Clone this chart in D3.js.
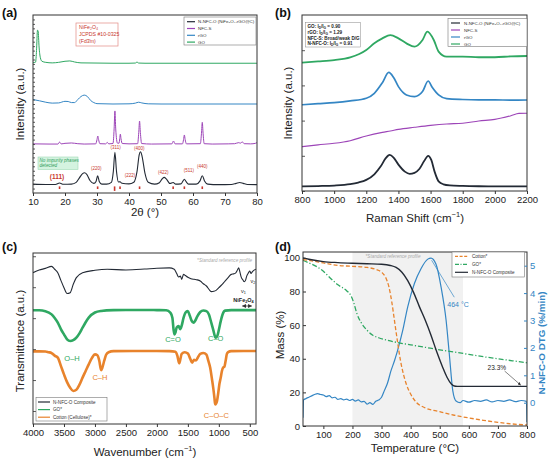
<!DOCTYPE html>
<html>
<head>
<meta charset="utf-8">
<script src="https://cdnjs.cloudflare.com/ajax/libs/d3/7.8.5/d3.min.js"></script>
<style>
body { margin: 0; background: #fff; }
svg { display: block; }
text { font-family: "Liberation Sans", Arial, sans-serif; }
</style>
</head>
<body>
<svg></svg>
<script>
// ---------- (a) XRD ----------
let xrdTicks = [10, 20, 30, 40, 50, 60, 70, 80]
let xrdGO = [[10,73.2],[10.8,73.5],[11.1,80],[11.4,91.5],[11.6,91],[11.9,82],[12.3,76],[12.8,74],[14,73.4],[16,73.1],[18,73.4],[20,74],[21.5,74.2],[23,73.6],[25,73.1],[30,73],[35,72.9],[40,72.9],[42,73],[42.5,73.6],[43,73],[45,72.9],[50,72.9],[60,72.9],[70,72.9],[80,72.9]]
let xrdRGO = [[10,52.5],[12,51.8],[14,51],[16,50.5],[18,50.6],[20,51.5],[21,51.4],[22,50.8],[23,50.8],[24,52.5],[25,54.2],[26,55],[27,54.2],[28,52],[29,50.8],[30,50.2],[35,50],[40,50.1],[42,50.5],[43,51],[44,50.6],[46,50.1],[50,50],[60,50],[70,50],[80,50]]
let xrdNFCS = [[10,27.6],[15,27.5],[17.8,27.5],[18.3,28.6],[18.8,27.6],[20,27.9],[22,28.1],[24,27.7],[26,27.5],[29.6,27.6],[30.0,30],[30.25,32.0],[30.5,30],[30.9,27.7],[32.7,27.6],[33.2,28.4],[33.7,27.6],[35.0,27.8],[35.35,36],[35.6,46.1],[35.85,36],[36.4,28],[36.9,28],[37.1,30.5],[37.3,33.1],[37.5,30.5],[37.9,27.8],[40,27.6],[42.7,27.7],[43.05,34],[43.3,40.4],[43.55,34],[43.95,27.8],[47,27.5],[53.4,27.6],[53.9,29.2],[54.4,27.6],[56.7,27.6],[57.05,30],[57.3,32.6],[57.55,30],[57.95,27.6],[62.3,27.7],[62.65,33.5],[62.9,39.7],[63.15,33.5],[63.5,27.7],[66,27.5],[71,27.6],[73,27.7],[74.3,28.3],[74.8,28.0],[75.4,28.7],[76,27.7],[78,27.6],[79.5,27.9],[80,28.3]]
let xrdNNFCO = [[10,5.0],[14,4.8],[17,4.8],[18.3,5.6],[19.5,4.9],[22,5.0],[23.5,6],[24.5,8.5],[25.5,10.9],[26.1,11.4],[26.8,10.5],[27.8,7],[29,5.4],[29.7,6.5],[30.2,9.7],[30.7,6.5],[31.5,5.0],[33,5.0],[34.5,6],[35.1,12],[35.6,22.8],[36.1,12],[36.7,6.2],[37.2,6.3],[37.8,5.5],[40,5.1],[41.5,6],[42.5,12],[43.2,21.5],[43.6,23.2],[44.1,20.5],[45,11],[46,6],[48,5.0],[49.5,5.8],[50.4,8],[51,8.8],[51.7,7.8],[52.8,5.3],[53.8,5.9],[54.6,5.0],[56.2,5.1],[56.8,6.5],[57.3,7.7],[57.8,6.5],[58.6,5.0],[61,5.0],[62.2,6.8],[62.9,9.7],[63.6,6.8],[64.6,5.0],[68,4.7],[72,4.8],[73.5,5.4],[74.6,5.9],[75.7,5.4],[77,4.8],[80,4.7]]
let refPeaks = [18.3, 30.2, 35.5, 37.2, 43.3, 53.8, 57.3, 62.9]
let hklLabels = [
  {t: '(111)', x: 17.5, y: 8.0, big: true},
  {t: '(220)', x: 29.8, y: 13.2},
  {t: '(311)', x: 35.8, y: 24.5},
  {t: '(400)', x: 43.2, y: 24.0},
  {t: '(222)', x: 40.3, y: 9.2},
  {t: '(422)', x: 50.7, y: 10.6},
  {t: '(511)', x: 58.7, y: 11.6},
  {t: '(440)', x: 62.9, y: 13.8}
]
let xrdLegend = ['N-NFC-O (NiFe\u2082O\u2084-rGO@C)', 'NFC-S', 'rGO', 'GO']

// ---------- (b) Raman ----------
let ramanTicks = [800, 1000, 1200, 1400, 1600, 1800, 2000, 2200]
let ramanYTicks = [0, 20, 40, 60, 80]
let ramanNNFCO = [[800,2.6],[900,2.8],[1000,3.1],[1100,3.9],[1150,4.8],[1200,6.3],[1250,9.5],[1290,14],[1320,18.5],[1345,20.5],[1370,19],[1400,15],[1440,11],[1470,9.7],[1500,10.3],[1530,12.5],[1560,17],[1585,20],[1605,17.5],[1625,11],[1650,5.5],[1680,3.8],[1720,3.2],[1800,2.9],[1900,2.7],[2000,2.6],[2100,2.6],[2200,2.6]]
let ramanNFCS = [[800,25.2],[900,26.2],[1000,27.1],[1100,28.6],[1200,31.3],[1300,33.3],[1350,34.1],[1400,35.0],[1500,36.2],[1600,37.3],[1700,38.1],[1800,38.5],[1900,39.8],[2000,40.7],[2100,42.8],[2150,44.1],[2200,44.2]]
let ramanRGO = [[800,49],[900,49.6],[1000,50.2],[1100,51.2],[1200,52.7],[1250,55.5],[1300,61.5],[1340,67.4],[1370,64.5],[1400,59.3],[1450,54.6],[1500,53.6],[1550,56.5],[1585,62.5],[1610,59],[1650,54.6],[1700,52.5],[1800,52],[1900,51.8],[2000,51.8],[2100,51.6],[2200,51.7]]
let ramanGO = [[800,72.9],[900,73.6],[1000,74.4],[1100,75.9],[1200,80.1],[1250,83.9],[1300,86.7],[1350,88.6],[1400,86.7],[1450,83.9],[1500,82.0],[1550,85.8],[1580,90.5],[1620,85.8],[1650,79.2],[1700,76.3],[1800,76.3],[1900,76.0],[2000,76.0],[2100,76.5],[2200,76.7]]
let ratioLines = [
  ['GO: ', '0.90'],
  ['rGO: ', '1.29'],
  ['NFC-S: Broad/weak D/G', null],
  ['N-NFC-O: ', '0.91']
]

// ---------- (c) FTIR ----------
let ftirTicks = [4000, 3500, 3000, 2500, 2000, 1500, 1000, 500]
let ftirYTicks = [7.6, 25.7, 43.8, 61.9, 80, 98.1]
let ftirComposite = [[4000,88.5],[3900,90],[3800,91],[3700,92.2],[3650,90.5],[3600,88.5],[3550,84],[3500,79.7],[3450,76.3],[3400,76.8],[3350,81.7],[3300,85.6],[3200,88.5],[3000,89.9],[2800,90.5],[2500,90.1],[2200,90.6],[2000,91.1],[1800,91.3],[1720,90.5],[1680,88],[1650,86],[1620,86.5],[1600,84.6],[1570,87.5],[1540,86.8],[1500,85.8],[1450,85],[1400,84.6],[1350,84.3],[1300,83.6],[1250,82],[1200,80.7],[1150,78.3],[1120,77.4],[1080,77.6],[1050,78],[1000,79.7],[950,81.5],[900,83.6],[850,85.6],[800,87.5],[760,87.8],[730,88.2],[700,90],[680,91.4],[660,89],[640,86],[610,84.2],[590,83.2],[570,84],[550,86.5],[520,88.5],[500,89.5],[480,88],[460,89],[430,90],[400,90.5]]
let ftirGO = [[4000,66.5],[3900,66.5],[3800,66],[3700,64.1],[3650,62],[3600,59.3],[3550,55.5],[3500,52.4],[3450,49.5],[3400,48.5],[3350,49],[3300,50.5],[3250,53],[3200,56.3],[3150,59.5],[3100,62.2],[3000,65.2],[2900,66.1],[2700,66.6],[2500,66.7],[2200,66.7],[2000,66.6],[1850,66.5],[1780,65],[1750,62.2],[1730,55],[1715,52.4],[1700,53.5],[1680,56.5],[1650,57.3],[1625,55.5],[1600,57.5],[1570,62],[1540,65],[1500,66],[1470,63.5],[1440,60.5],[1410,59.3],[1380,60.5],[1350,62.8],[1300,65.5],[1250,66.4],[1200,66],[1160,64],[1120,59],[1090,55],[1060,51],[1045,50.5],[1020,52],[1000,55],[970,60],[940,64],[900,66.3],[800,66.6],[600,66.6],[400,66.6]]
let ftirCotton = [[4000,42.5],[3900,42.5],[3800,42.4],[3750,42],[3700,41.5],[3650,40],[3600,38.8],[3550,34],[3500,29],[3450,24.5],[3400,21.2],[3350,19.3],[3300,20],[3250,23],[3200,27.1],[3150,31],[3100,34.9],[3050,38.5],[3000,40.7],[2960,40.2],[2930,37],[2900,31.5],[2880,33],[2850,37],[2820,40.5],[2780,42],[2700,42.6],[2400,42.7],[2000,42.7],[1800,42.6],[1700,42.3],[1670,40],[1640,35.5],[1620,38],[1600,41],[1550,42],[1500,41.2],[1460,38],[1430,35.9],[1400,37.5],[1370,37.2],[1330,39.5],[1300,41],[1250,41.5],[1200,40.5],[1170,37],[1140,33],[1110,26],[1090,21],[1070,15],[1060,11.5],[1045,12],[1030,13.4],[1010,18],[990,23.5],[970,27],[950,31],[930,33],[910,33.5],[890,37],[870,41],[850,42],[800,42.6],[600,42.7],[400,42.7]]
let bondLabels = [
  {t: 'O\u2013H', x: 3370, y: 37.0, c: 'green'},
  {t: 'C\u2013H', x: 2920, y: 25.8, c: 'orange'},
  {t: 'C=O', x: 1740, y: 48.0, c: 'green'},
  {t: 'C\u2013O', x: 1050, y: 48.8, c: 'green'},
  {t: 'C\u2013O\u2013C', x: 1040, y: 3.5, c: 'orange'}
]
let ftirLegend = ['N-NFC-O Composite', 'GO*', 'Cotton (Cellulose)*']

// ---------- (d) TGA / DTG ----------
let tgaTicks = [100, 200, 300, 400, 500, 600, 700, 800]
let massTicks = [0, 20, 40, 60, 80, 100]
let dtgTicks = [0, 1, 2, 3, 4, 5]
let shadeRange = [200, 580]
let tgaCotton = [[30,99],[50,98.5],[100,97],[150,95.5],[200,95],[250,94.3],[280,93.2],[300,91.5],[315,88],[325,83],[335,74],[345,62],[355,50],[365,39],[375,31],[385,25],[400,19],[420,14],[450,10.8],[500,8.5],[550,6.4],[600,4.8],[650,3.4],[700,2.2],[750,1.2],[800,0.6]]
let tgaGO = [[30,98.5],[50,97],[80,94.5],[100,92],[130,87],[150,84],[180,80.5],[195,77.5],[205,73],[215,67],[230,61.5],[250,57],[270,54],[290,52.5],[320,51],[350,49.8],[400,48.3],[450,46.8],[500,45.3],[550,44],[600,42.6],[650,41.2],[700,40],[750,38.8],[800,37.6]]
let tgaComposite = [[30,100],[50,99.2],[100,97.8],[150,97.2],[200,96.8],[250,96.5],[300,96.2],[330,95.5],[350,94.3],[370,91.5],[390,86.5],[410,79.5],[430,71],[450,63],[470,54],[490,44],[510,35],[525,29],[540,25],[550,23.8],[560,23.6],[600,23.6],[700,23.6],[800,23.6]]
let dtgComposite = [[30,-0.55],[32,0.1],[40,0.15],[50,0.2],[60,0.25],[70,0.3],[80,0.33],[90,0.3],[100,0.28],[110,0.22],[120,0.26],[130,0.18],[140,0.2],[150,0.12],[160,0.15],[170,0.1],[180,0.13],[190,0.08],[200,0.12],[210,0.06],[220,0.1],[230,0.03],[240,0.05],[250,-0.05],[260,0.0],[270,-0.06],[280,0.05],[290,0.1],[300,0.2],[310,0.45],[320,0.7],[332,1.15],[345,1.55],[355,1.9],[372,2.6],[390,3.5],[413,4.35],[436,4.9],[459,5.24],[470,5.28],[487,5.06],[505,4.2],[522,3.0],[533,1.77],[545,0.43],[556,0.06],[570,0.0],[580,0.08],[600,0.02],[620,0.08],[640,0.05],[660,0.1],[680,0.03],[700,0.08],[720,0.05],[740,0.1],[760,0.04],[780,0.08],[798,0.05],[800,-0.7]]
let peakNote = {from: [472, 5.2], to: [550, 3.85], label: '464 \u00b0C'}
let residueNote = {from: [723, 32.7], to: [778, 24.4], label: '23.3%'}
let tgaLegend = ['Cotton*', 'GO*', 'N-NFC-O Composite']

let colors = {
  black: '#232a35',
  purple: '#9d45b8',
  blue: '#3486c4',
  green: '#2fa862',
  orange: '#e8832c',
  red: '#c8372d'
}

let width = 550
let height = 462
let svg = d3.select('svg').attr('width', width).attr('height', height)

let defs = svg.append('defs')
defs.append('marker').attr('id', 'arrow').attr('viewBox', '0 0 10 10')
  .attr('refX', 9).attr('refY', 5).attr('markerWidth', 5).attr('markerHeight', 5)
  .attr('orient', 'auto-start-reverse')
  .append('path').attr('d', 'M0,0 L10,5 L0,10 z').attr('fill', '#333')

const makePanel = (id, box, xDom, yDom) => {
  let g = svg.append('g')
  let x = d3.scaleLinear().domain(xDom).range([box.l, box.r])
  let y = d3.scaleLinear().domain(yDom).range([box.b, box.t])
  defs.append('clipPath').attr('id', 'clip-' + id)
    .append('rect').attr('x', box.l).attr('y', box.t)
    .attr('width', box.r - box.l).attr('height', box.b - box.t)
  let plot = g.append('g').attr('clip-path', 'url(#clip-' + id + ')')
  return {g, x, y, plot, box}
}

const drawFrame = (p) => {
  p.g.append('rect')
    .attr('x', p.box.l).attr('y', p.box.t)
    .attr('width', p.box.r - p.box.l).attr('height', p.box.b - p.box.t)
    .attr('fill', 'none').attr('stroke', '#333').attr('stroke-width', 1)
}

const bottomAxis = (p, ticks) => {
  let ax = p.g.append('g')
    .attr('transform', 'translate(0,' + p.box.b + ')')
    .call(d3.axisBottom(p.x).tickValues(ticks).tickFormat(d3.format('d'))
      .tickSize(3).tickSizeOuter(0).tickPadding(2))
  ax.select('.domain').remove()
  ax.selectAll('text').attr('font-size', 9.5).attr('fill', '#222')
  ax.selectAll('line').attr('stroke', '#333')
}

const leftTicks = (p, ticks, size) => {
  let ax = p.g.append('g')
    .attr('transform', 'translate(' + p.box.l + ',0)')
    .call(d3.axisLeft(p.y).tickValues(ticks).tickSize(-size).tickSizeOuter(0).tickFormat(''))
  ax.select('.domain').remove()
  ax.selectAll('line').attr('stroke', '#333').attr('stroke-width', 0.8)
}

const drawLine = (p, data, color, w, dash, yScale) => {
  let ys = yScale || p.y
  let line = d3.line().x(d => p.x(d[0])).y(d => ys(d[1])).curve(d3.curveMonotoneX)
  p.plot.append('path').datum(data)
    .attr('d', line).attr('fill', 'none')
    .attr('stroke', color).attr('stroke-width', w)
    .attr('stroke-linejoin', 'round')
    .attr('stroke-dasharray', dash || null)
}

const panelLabel = (t, x, y) => {
  svg.append('text').attr('x', x).attr('y', y).text(t)
    .attr('font-size', 12.5).attr('font-weight', 'bold').attr('fill', '#111')
}

const xTitle = (t, x, y, sup) => {
  let el = svg.append('text').attr('x', x).attr('y', y)
    .attr('text-anchor', 'middle').attr('font-size', 11.5).attr('fill', '#222')
  el.append('tspan').text(t)
  if (sup) {
    el.append('tspan').text(sup).attr('font-size', 7.5).attr('dy', -5)
    el.append('tspan').text(')').attr('dy', 5)
  }
}

const yTitle = (t, x, y, color, bold) => {
  svg.append('text').attr('transform', 'translate(' + x + ',' + y + ') rotate(-90)')
    .attr('text-anchor', 'middle').attr('font-size', bold ? 9.8 : 11.5)
    .attr('font-weight', bold ? 'bold' : 'normal')
    .attr('fill', color || '#222').text(t)
}

const legend = (p, box, items, rowGap, sample, textX, fs) => {
  let lg = p.g.append('g')
  lg.append('rect').attr('x', box.x).attr('y', box.y).attr('width', box.w).attr('height', box.h)
    .attr('fill', '#fff').attr('stroke', '#777').attr('stroke-width', 0.6)
  items.forEach((it, i) => {
    let yy = box.y + box.first + i * rowGap
    lg.append('line').attr('x1', sample[0]).attr('x2', sample[1]).attr('y1', yy).attr('y2', yy)
      .attr('stroke', it.c).attr('stroke-width', it.w || 1.2).attr('stroke-dasharray', it.dash || null)
    lg.append('text').attr('x', textX).attr('y', yy + fs * 0.35).attr('font-size', fs)
      .attr('fill', '#333').text(it.t)
  })
}

// ---------- panel (a) ----------
let pa = makePanel('a', {l: 33, r: 257, t: 15, b: 193}, [10, 80], [0, 100])
drawLine(pa, xrdGO, colors.green, 1)
drawLine(pa, xrdRGO, colors.blue, 1)
drawLine(pa, xrdNFCS, colors.purple, 1)
drawLine(pa, xrdNNFCO, colors.black, 1.1)
pa.plot.selectAll('.ref').data(refPeaks).enter().append('rect')
  .attr('x', d => pa.x(d) - 0.8).attr('y', pa.y(3.7)).attr('width', 1.6).attr('height', d => d === 35.5 ? 4.5 : 2.6)
  .attr('fill', colors.red)
hklLabels.forEach(h => {
  pa.g.append('text').attr('x', pa.x(h.x)).attr('y', pa.y(h.y)).attr('text-anchor', 'middle')
    .attr('font-size', h.big ? 6.5 : 4.5).attr('font-weight', h.big ? 'bold' : 'normal')
    .attr('fill', colors.red).text(h.t)
})
drawFrame(pa)
bottomAxis(pa, xrdTicks)
leftTicks(pa, d3.range(2.5, 100, 2.5), 2)
// phase box
pa.g.append('rect').attr('x', 76).attr('y', 23).attr('width', 42).attr('height', 23)
  .attr('fill', '#fff').attr('stroke', '#e28b84').attr('stroke-width', 0.7)
;['NiFe\u2082O\u2084', 'JCPDS #10-0325', '(Fd3\u0304m)'].forEach((t, i) => {
  pa.g.append('text').attr('x', 79).attr('y', 29 + i * 7).attr('font-size', 5.2)
    .attr('fill', colors.red).text(t)
})
pa.g.append('rect').attr('x', 38).attr('y', 157).attr('width', 40).attr('height', 12.5)
  .attr('fill', '#d4f3e0').attr('stroke', '#9fd9b5').attr('stroke-width', 0.6)
;['No impurity phases', 'detected'].forEach((t, i) => {
  pa.g.append('text').attr('x', 39.5).attr('y', 162 + i * 5.3).attr('font-size', 4.6)
    .attr('font-style', 'italic').attr('fill', '#2e9c58').text(t)
})
legend(pa, {x: 184, y: 17, w: 72, h: 28, first: 4.7}, [
  {t: xrdLegend[0], c: colors.black},
  {t: xrdLegend[1], c: colors.purple},
  {t: xrdLegend[2], c: colors.blue},
  {t: xrdLegend[3], c: colors.green}
], 6.8, [187, 195], 198, 4.4)
panelLabel('(a)', 2, 17)
xTitle('2\u03b8 (\u00b0)', 145, 216)
yTitle('Intensity (a.u.)', 24, 104)

// ---------- panel (b) ----------
let pb = makePanel('b', {l: 302, r: 527, t: 15, b: 191}, [800, 2200], [0, 100])
drawLine(pb, ramanGO, colors.green, 1.8)
drawLine(pb, ramanRGO, colors.blue, 1.7)
drawLine(pb, ramanNFCS, colors.purple, 1.1)
drawLine(pb, ramanNNFCO, colors.black, 1.8)
drawFrame(pb)
bottomAxis(pb, ramanTicks)
leftTicks(pb, ramanYTicks, 3)
pb.g.append('rect').attr('x', 305.5).attr('y', 22.5).attr('width', 55).attr('height', 24.5)
  .attr('fill', '#fff').attr('stroke', '#888').attr('stroke-width', 0.5)
ratioLines.forEach((r, i) => {
  let t = pb.g.append('text').attr('x', 307.5).attr('y', 28.3 + i * 5.6)
    .attr('font-size', 4.6).attr('font-weight', 'bold').attr('fill', '#222')
  t.append('tspan').text(r[0])
  if (r[1]) {
    t.append('tspan').text('I')
    t.append('tspan').text('D').attr('font-size', 3.2).attr('dy', 1)
    t.append('tspan').text('/I').attr('dy', -1)
    t.append('tspan').text('G').attr('font-size', 3.2).attr('dy', 1)
    t.append('tspan').text(' = ' + r[1]).attr('dy', -1)
  }
})
legend(pb, {x: 448, y: 18.5, w: 79, h: 28, first: 4.5}, [
  {t: xrdLegend[0], c: colors.black},
  {t: xrdLegend[1], c: colors.purple},
  {t: xrdLegend[2], c: colors.blue},
  {t: xrdLegend[3], c: colors.green}
], 7, [451, 460], 464, 4.4)
panelLabel('(b)', 275, 17)
xTitle('Raman Shift (cm', 415, 222, '\u22121')
yTitle('Intensity (a.u.)', 292, 103)

// ---------- panel (c) ----------
let pc = makePanel('c', {l: 33, r: 256, t: 253, b: 424}, [4000, 400], [0, 100])
drawLine(pc, ftirCotton, colors.orange, 2.6)
drawLine(pc, ftirGO, colors.green, 2.6)
drawLine(pc, ftirComposite, colors.black, 1.1)
drawFrame(pc)
bottomAxis(pc, ftirTicks)
leftTicks(pc, ftirYTicks, 3)
bondLabels.forEach(b => {
  pc.g.append('text').attr('x', pc.x(b.x)).attr('y', pc.y(b.y)).attr('text-anchor', 'middle')
    .attr('font-size', 7.5).attr('fill', colors[b.c]).text(b.t)
})
pc.g.append('text').attr('x', 252).attr('y', 262).attr('text-anchor', 'end')
  .attr('font-size', 4.6).attr('font-style', 'italic').attr('fill', '#aaa').text('*Standard reference profile')
pc.g.append('text').attr('x', 250.5).attr('y', 282.5).attr('font-size', 5.5).attr('fill', '#222')
  .html('\u03bd<tspan font-size="3.8" dy="1">2</tspan>')
pc.g.append('text').attr('x', 241).attr('y', 292.5).attr('font-size', 5.5).attr('fill', '#222')
  .html('\u03bd<tspan font-size="3.8" dy="1">1</tspan>')
pc.g.append('text').attr('x', 243.5).attr('y', 301.5).attr('text-anchor', 'middle')
  .attr('font-size', 5.5).attr('font-weight', 'bold').attr('fill', '#222')
  .html('NiFe<tspan font-size="3.8" dy="1">2</tspan><tspan dy="-1">O</tspan><tspan font-size="3.8" dy="1">4</tspan>')
pc.g.append('line').attr('x1', pc.x(620)).attr('x2', pc.x(470)).attr('y1', 306).attr('y2', 306)
  .attr('stroke', '#333').attr('stroke-width', 0.8)
  .attr('marker-start', 'url(#arrow)').attr('marker-end', 'url(#arrow)')
legend(pc, {x: 36, y: 397.5, w: 71, h: 23.5, first: 4.5}, [
  {t: ftirLegend[0], c: colors.black},
  {t: ftirLegend[1], c: colors.green},
  {t: ftirLegend[2], c: colors.orange}
], 7.6, [38, 50], 53, 4.6)
panelLabel('(c)', 2, 251)
xTitle('Wavenumber (cm', 145, 456, '\u22121')
yTitle('Transmittance (a.u.)', 24, 341)

// ---------- panel (d) ----------
let pd = makePanel('d', {l: 303, r: 527, t: 252, b: 426}, [30, 800], [0, 103.5])
let yR = d3.scaleLinear().domain([-0.85, 5.5]).range([426, 252])
pd.plot.append('rect').attr('x', pd.x(shadeRange[0])).attr('y', 252)
  .attr('width', pd.x(shadeRange[1]) - pd.x(shadeRange[0])).attr('height', 174)
  .attr('fill', '#f1f1f1')
drawLine(pd, dtgComposite, colors.blue, 1.2, null, yR)
drawLine(pd, tgaGO, colors.green, 1.3, '5,2,1.2,2')
drawLine(pd, tgaCotton, colors.orange, 1.3, '4,2.2')
drawLine(pd, tgaComposite, colors.black, 1.4)
drawFrame(pd)
bottomAxis(pd, tgaTicks)
let la = pd.g.append('g').attr('transform', 'translate(303,0)')
  .call(d3.axisLeft(pd.y).tickValues(massTicks).tickSize(-3).tickSizeOuter(0).tickPadding(3))
la.select('.domain').remove()
la.selectAll('text').attr('font-size', 9.5).attr('fill', '#222')
la.selectAll('line').attr('stroke', '#333')
let ra = pd.g.append('g').attr('transform', 'translate(527,0)')
  .call(d3.axisRight(yR).tickValues(dtgTicks).tickFormat(d3.format('d'))
    .tickSize(-3).tickSizeOuter(0).tickPadding(3))
ra.select('.domain').remove()
ra.selectAll('text').attr('font-size', 9.5).attr('fill', colors.blue)
ra.selectAll('line').attr('stroke', colors.blue)
pd.g.append('text').attr('x', 393).attr('y', 257.5).attr('text-anchor', 'middle')
  .attr('font-size', 4.6).attr('font-style', 'italic').attr('fill', '#aaa').text('*Standard reference profile')
pd.g.append('line')
  .attr('x1', pd.x(peakNote.from[0])).attr('y1', yR(peakNote.from[1]))
  .attr('x2', pd.x(peakNote.to[0])).attr('y2', yR(peakNote.to[1]))
  .attr('stroke', colors.blue).attr('stroke-width', 0.7)
pd.g.append('text').attr('x', pd.x(peakNote.to[0]) - 7).attr('y', yR(peakNote.to[1]) + 10)
  .attr('font-size', 7).attr('fill', colors.blue).text(peakNote.label)
pd.g.append('line')
  .attr('x1', pd.x(residueNote.from[0])).attr('y1', pd.y(residueNote.from[1]))
  .attr('x2', pd.x(residueNote.to[0])).attr('y2', pd.y(residueNote.to[1]))
  .attr('stroke', '#333').attr('stroke-width', 0.6).attr('marker-end', 'url(#arrow)')
pd.g.append('text').attr('x', pd.x(residueNote.from[0]) - 17).attr('y', pd.y(residueNote.from[1]) - 1)
  .attr('font-size', 6.5).attr('fill', '#222').text(residueNote.label)
legend(pd, {x: 452, y: 252, w: 72.5, h: 25, first: 4.3}, [
  {t: tgaLegend[0], c: colors.orange, dash: '3,1.6'},
  {t: tgaLegend[1], c: colors.green, dash: '4,1.5,1,1.5'},
  {t: tgaLegend[2], c: colors.black}
], 8, [455, 468], 472, 4.6)
panelLabel('(d)', 275, 251)
xTitle('Temperature (\u00b0C)', 415, 452)
yTitle('Mass (%)', 284, 335)
yTitle('N-NFC-O DTG (%/min)', 545, 343, colors.blue, true)
</script>
</body>
</html>
